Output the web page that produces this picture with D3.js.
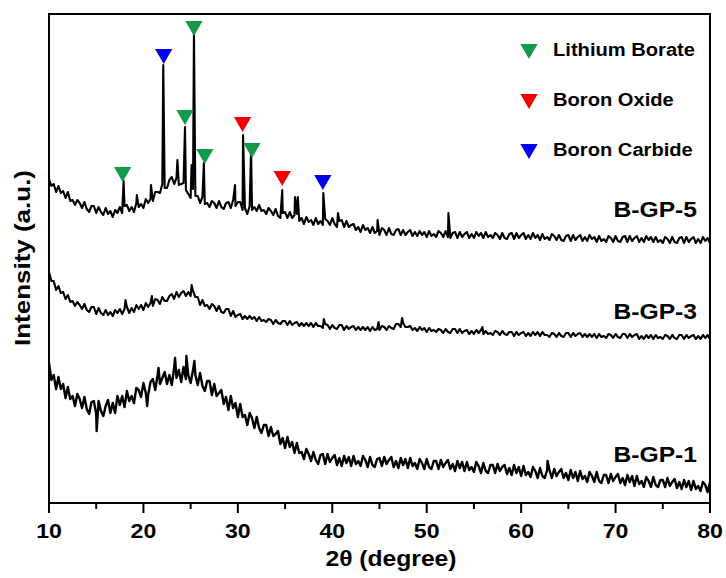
<!DOCTYPE html>
<html>
<head>
<meta charset="utf-8">
<script src="https://cdn.jsdelivr.net/npm/d3@7"></script>
<style>
  body { margin: 0; background: #fff; }
  svg { display: block; font-family: "Liberation Sans", Arial, sans-serif; font-weight: bold; }
</style>
</head>
<body>
<svg id="chart" width="726" height="578"></svg>
<script>
const angleStart = 10;
const angleStep = 0.25;

const bgp5 = [
  324,317,319,311,317,310,312,305,311,
  302,303,298,303,300,295,301,294, 291,297,297,290,296,291,288,295,
  289,292,286,293,290,296,290,297, 298,292,296,291,300,296,299,295,
  304,300,304,302,311,311,310,319, 315,315,323,326,319,325,318,319,
  320,313,309,305,314,307,307,300, 306,299,300,296,302,300,295,302,
  296,294,300,301,295,303,297,301, 301,293,295,289,297,293,296,292,
  298,292,293,289,295,292,288,294, 287,285,290,291,285,291,285,288,
  289,282,285,279,286,281,283,278, 285,279,282,278,284,282,278,285,
  279,276,282,283,276,282,276,278, 279,273,276,271,278,273,275,270,
  276,270,272,268,275,273,268,275, 269,268,273,274,268,273,268,271,
  273,267,271,267,272,268,271,266, 272,267,269,266,272,270,266,272,
  266,265,270,271,265,271,266,269, 271,265,269,265,271,267,270,265,
  271,266,268,265,270,268,264,270, 265,264,269,270,264,270,265,268,
  270,264,268,264,270,265,268,263, 269,264,266,263,269,267,263,268,
  263,262,267,268,262,268,263,266, 268,262,266,262,268,264,266,261,
  267,262,264,261,267,265,261,267, 262,261,266,267,261,267,262,265,
  267,261,265,261,267,263,266,261, 266,261,263,260,266,264,260,266,
  261,260,265,266,260,266,261,264, 266,260,264,260,266,262,265,260
];
const bgp5Peaks = [
  [17.9,322],[19.3,308],[20.8,318],[22.1,438],[23.6,343],[24.4,376],[25.1,338],
  [25.35,470],[26.4,340],[29.7,318],[30.55,368],[31.4,353],[34.7,313],[36.05,306],
  [36.35,306],[39.05,310],[40.6,290],[44.8,283],[52.3,290]
];

const bgp3 = [
  231,222,222,213,217,210,211,204,208,
  201,202,197,201,198,194,199,193, 191,196,196,189,195,190,188,193,
  188,191,187,193,190,194,189,194, 196,190,195,191,198,194,198,193,
  200,196,200,197,204,203,199,206, 202,202,207,209,204,211,206,210,
  212,207,211,207,212,206,206,198, 203,197,198,194,199,197,192,197,
  191,190,194,194,187,192,186,188, 189,184,187,184,187,184,186,182,
  186,182,183,181,184,183,179,183, 180,179,182,182,178,182,178,180,
  181,177,180,177,180,177,180,176, 180,177,177,175,179,178,174,178,
  175,174,178,178,173,177,174,176, 177,173,176,173,176,173,176,172,
  176,173,174,173,177,176,173,177, 175,174,179,179,176,180,176,176,
  177,173,175,172,176,173,175,171, 175,172,173,171,174,173,170,174,
  171,170,174,174,170,174,170,172, 173,169,172,169,173,170,173,169,
  172,169,170,168,172,171,168,172, 169,168,171,171,167,171,168,170,
  171,167,170,167,171,168,171,167, 171,168,168,166,170,169,166,170,
  167,166,170,170,166,170,167,169, 170,166,169,166,169,166,169,165,
  169,166,167,165,169,168,165,169, 166,165,169,169,165,169,166,168,
  169,164,167,164,168,165,168,164, 168,165,166,164,168,167,164,168,
  165,164,168,168,164,168,165,167, 168,164,167,164,168,165,168,164
];
const bgp3Peaks = [
  [18.1,203],[20.9,207],[25.1,218],[39.1,184],[44.9,181],[47.4,185],[55.9,176]
];

const bgp1 = [
  140,123,128,114,126,114,119,105,116,
  104,107,97,109,104,95,106,94, 89,101,102,89,102,92,87,97,
  103,90,100,90,107,98,107,96, 112,102,107,100,115,113,106,120,
  110,108,121,124,113,128,119,125, 131,119,128,118,135,125,133,121,
  136,124,128,120,133,128,118,130, 117,112,122,122,108,119,107,110,
  113,99,106,93,107,95,100,86, 99,86,88,78,90,85,75,86,
  75,70,78,78,67,76,67,69, 72,59,65,55,66,56,61,50,
  60,50,51,44,54,49,42,51, 43,39,48,49,39,49,41,45,
  48,38,45,37,47,40,46,37, 47,39,42,37,47,43,36,46,
  38,36,44,45,37,46,39,43, 46,36,42,35,45,38,44,35,
  45,37,40,34,44,40,34,44, 36,34,42,42,34,43,36,40,
  43,34,39,32,42,35,41,32, 41,33,36,31,41,37,30,40,
  32,30,38,38,30,39,32,36, 38,29,35,28,38,30,36,27,
  37,28,31,26,36,32,25,35, 27,25,33,33,25,34,27,31,
  34,25,30,23,33,25,31,22, 32,24,27,21,31,27,21,31,
  22,20,28,28,20,29,22,26, 29,20,25,18,28,21,27,17,
  27,19,22,16,26,22,16,26, 18,16,23,23,16,25,17,21,
  24,15,21,14,23,16,22,13, 22,14,17,12,21,18,11,21
];
const bgp1Peaks = [
  [15.05,72],[20.4,97],[21.6,135],[23.35,145],[24.55,147],[25.4,142],[62.8,42]
];

const seriesNames = ["B-GP-5", "B-GP-3", "B-GP-1"];
const seriesLabelH = [286, 184, 41];   // label baseline, in a.u.

const phases = ["Lithium Borate", "Boron Oxide", "Boron Carbide"];
const phaseColors = ["#12994a", "#f20000", "#0000f0"];

const markerX = [17.8, 22.15, 24.4, 25.35, 26.5, 30.5, 31.5, 34.7, 39.0];
const markerH = [331, 449, 388, 477, 349, 381, 355, 327, 323];
const markerPhase = [0, 2, 0, 0, 0, 1, 0, 1, 2];

const xMajorTicks = [10, 20, 30, 40, 50, 60, 70, 80];
const xMinorTicks = [15, 25, 35, 45, 55, 65, 75];

// ---- layout ----
const W = 726, H = 578;
const margin = { left: 49, right: 16, top: 14, bottom: 75 };
const plotW = W - margin.left - margin.right;
const plotH = H - margin.top - margin.bottom;

const svg = d3.select("#chart");
const g = svg.append("g").attr("transform", `translate(${margin.left},${margin.top})`);

const x = d3.scaleLinear().domain([10, 80]).range([0, plotW]);
const y = d3.scaleLinear().domain([0, plotH]).range([plotH, 0]);

function toPoints(vals, peaks) {
  const pts = vals.map((v, i) => [angleStart + i * angleStep, v]);
  return pts.concat(peaks).sort((a, b) => a[0] - b[0]);
}
const series = [toPoints(bgp5, bgp5Peaks), toPoints(bgp3, bgp3Peaks), toPoints(bgp1, bgp1Peaks)];

// the original figure's lettering is a little wider than Arial
function stretch(k) {
  return sel => sel.each(function () {
    const w = this.getComputedTextLength();
    this.setAttribute("textLength", (w * k).toFixed(1));
    this.setAttribute("lengthAdjust", "spacingAndGlyphs");
  });
}

svg.append("defs").append("clipPath").attr("id", "plotClip")
  .append("rect").attr("width", plotW).attr("height", plotH);

// traces
const line = d3.line().x(d => x(d[0])).y(d => y(d[1]));
g.append("g").attr("clip-path", "url(#plotClip)")
  .selectAll("path").data(series).enter().append("path")
  .attr("d", line)
  .attr("fill", "none")
  .attr("stroke", "#000")
  .attr("stroke-width", (d, i) => i === 2 ? 2.4 : 2.1)
  .attr("stroke-linejoin", "round");

// peak markers
const tri = d3.symbol(d3.symbolTriangle, 130);
g.selectAll(".marker").data(markerX).enter().append("path")
  .attr("class", "marker")
  .attr("d", tri)
  .attr("transform", (d, i) => `translate(${x(d)},${y(markerH[i])}) rotate(180)`)
  .attr("fill", (d, i) => phaseColors[markerPhase[i]]);

// legend
const legend = g.append("g").attr("transform", "translate(480,0)");
phases.forEach((p, i) => {
  const row = legend.append("g").attr("transform", `translate(0,${35 + i * 50})`);
  row.append("path").attr("d", tri).attr("transform", "rotate(180)").attr("fill", phaseColors[i]);
  row.append("text").attr("x", 24).attr("y", 7).attr("font-size", 17.5).text(p).call(stretch(1.15));
});

// series labels
g.selectAll(".slabel").data(seriesNames).enter().append("text")
  .attr("class", "slabel")
  .attr("x", plotW - 13)
  .attr("y", (d, i) => y(seriesLabelH[i]))
  .attr("text-anchor", "end")
  .attr("font-size", 22)
  .text(d => d)
  .call(stretch(1.12));

// x axis ticks
const axis = g.append("g").attr("transform", `translate(0,${plotH})`);
axis.selectAll(".major").data(xMajorTicks).enter().append("line")
  .attr("x1", d => x(d)).attr("x2", d => x(d)).attr("y1", 0).attr("y2", 10)
  .attr("stroke", "#000").attr("stroke-width", 2);
axis.selectAll(".minor").data(xMinorTicks).enter().append("line")
  .attr("x1", d => x(d)).attr("x2", d => x(d)).attr("y1", 0).attr("y2", 6)
  .attr("stroke", "#000").attr("stroke-width", 2);
axis.selectAll(".tl").data(xMajorTicks).enter().append("text")
  .attr("x", d => x(d)).attr("y", 35)
  .attr("text-anchor", "middle").attr("font-size", 21)
  .text(d => d).call(stretch(1.1));

// frame
g.append("rect").attr("width", plotW).attr("height", plotH)
  .attr("fill", "none").attr("stroke", "#000").attr("stroke-width", 2);

// axis titles
svg.append("text").attr("x", 391).attr("y", 566).attr("text-anchor", "middle")
  .attr("font-size", 22).text("2θ (degree)").call(stretch(1.12));
svg.append("text").attr("transform", "translate(30,258) rotate(-90)")
  .attr("text-anchor", "middle").attr("font-size", 22).text("Intensity (a.u.)").call(stretch(1.18));
</script>
</body>
</html>
